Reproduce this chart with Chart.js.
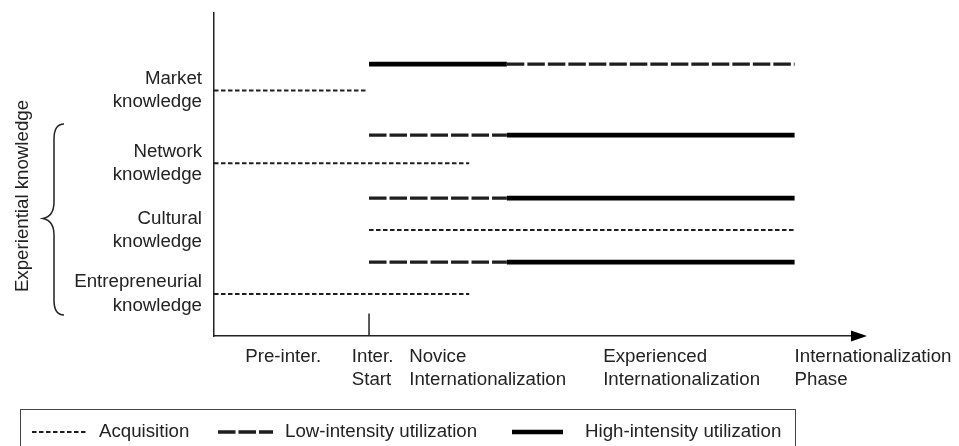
<!DOCTYPE html>
<html>
<head>
<meta charset="utf-8">
<script src="https://cdn.jsdelivr.net/npm/chart.js@4.4.1/dist/chart.umd.min.js"></script>
<style>
  body { margin: 0; background: #fff; }
  #wrap { width: 959px; height: 446px; }
</style>
</head>
<body>
<div id="wrap"><canvas id="myChart"></canvas></div>
<script>
// knowledge rows (y) and phase positions (x)
const knowledgeLabels = [['Market', 'knowledge'], ['Network', 'knowledge'], ['Cultural', 'knowledge'], ['Entrepreneurial', 'knowledge']];
const acquisitionLevel = [7.6, 5.35, 3.28, 1.3];
const acquisitionStart = [0, 0, 2.43, 0];
const acquisitionEnd = [2.41, 4.0, 9.1, 4.0];
const utilizationLevel = [8.42, 6.22, 4.27, 2.29];
const lowIntensity = [[4.59, 9.1], [2.43, 4.59], [2.43, 4.59], [2.43, 4.59]];
const highIntensity = [[2.43, 4.59], [4.59, 9.1], [4.59, 9.1], [4.59, 9.1]];
const phaseLabels = [['Pre-inter.'], ['Inter.', 'Start'], ['Novice', 'Internationalization'], ['Experienced', 'Internationalization'], ['Internationalization', 'Phase']];
const phaseTickX = [0.49, 2.16, 3.06, 6.1, 9.1];
const interStartX = 2.43;
const interStartMark = [0, 0.7];
const legendLabels = ['Acquisition', 'Low-intensity utilization', 'High-intensity utilization'];

const ink = '#222';
const lineStyles = [
  { borderColor: '#1e1e1e', borderWidth: 2, borderDash: [4.5, 2.5] },
  { borderColor: '#1e1e1e', borderWidth: 3.3, borderDash: [17.5, 3] },
  { borderColor: '#000', borderWidth: 4.7, borderDash: [] }
];

function seg(label, x0, x1, y0, y1, style) {
  return Object.assign({
    label: label,
    data: [{ x: x0, y: y0 }, { x: x1, y: y1 }],
    pointRadius: 0,
    fill: false,
    tension: 0,
    borderCapStyle: 'butt'
  }, style);
}

const datasets = [];
knowledgeLabels.forEach((k, i) => {
  const name = k.join(' ');
  datasets.push(seg(name + ' acquisition', acquisitionStart[i], acquisitionEnd[i], acquisitionLevel[i], acquisitionLevel[i], lineStyles[0]));
  datasets.push(seg(name + ' low', lowIntensity[i][0], lowIntensity[i][1], utilizationLevel[i], utilizationLevel[i], lineStyles[1]));
  datasets.push(seg(name + ' high', highIntensity[i][0], highIntensity[i][1], utilizationLevel[i], utilizationLevel[i], lineStyles[2]));
});
datasets.push(seg('Inter. start', interStartX, interStartX, interStartMark[0], interStartMark[1], { borderColor: ink, borderWidth: 1.5 }));

Chart.defaults.font.family = '"Liberation Sans", Arial, sans-serif';
Chart.defaults.font.size = 18.7;
Chart.defaults.color = ink;

const decor = {
  id: 'decor',
  afterDraw(chart) {
    const ctx = chart.ctx;
    const a = chart.chartArea;
    ctx.save();
    // arrow head on the phase axis
    ctx.fillStyle = '#000';
    ctx.beginPath();
    ctx.moveTo(a.right - 1, a.bottom - 5.5);
    ctx.lineTo(a.right + 15, a.bottom);
    ctx.lineTo(a.right - 1, a.bottom + 5.5);
    ctx.closePath();
    ctx.fill();

    // brace
    ctx.strokeStyle = ink;
    ctx.lineWidth = 1.5;
    ctx.beginPath();
    ctx.moveTo(64, 124);
    ctx.bezierCurveTo(57, 124, 54, 129, 54, 139);
    ctx.lineTo(54, 202);
    ctx.bezierCurveTo(54, 212, 50, 217, 43, 218.5);
    ctx.bezierCurveTo(50, 220, 54, 225, 54, 235);
    ctx.lineTo(54, 300);
    ctx.bezierCurveTo(54, 310, 57, 315, 64, 315);
    ctx.stroke();

    // group title
    ctx.fillStyle = ink;
    ctx.font = '18.7px "Liberation Sans", Arial, sans-serif';
    ctx.translate(23, 196);
    ctx.rotate(-Math.PI / 2);
    ctx.textAlign = 'center';
    ctx.textBaseline = 'middle';
    ctx.fillText('Experiential knowledge', 0, 0);
    ctx.restore();

    // legend box
    ctx.save();
    ctx.strokeStyle = '#444';
    ctx.lineWidth = 1;
    ctx.strokeRect(20.5, 409.5, 775, 60);
    const sampleX = [[32, 87], [218, 273], [512, 563]];
    const textX = [99, 285, 585];
    const ly = 432;
    ctx.font = '18.7px "Liberation Sans", Arial, sans-serif';
    ctx.textBaseline = 'middle';
    ctx.textAlign = 'left';
    legendLabels.forEach((t, i) => {
      const s = lineStyles[i];
      ctx.strokeStyle = s.borderColor;
      ctx.lineWidth = s.borderWidth;
      ctx.setLineDash(s.borderDash);
      ctx.beginPath();
      ctx.moveTo(sampleX[i][0], ly);
      ctx.lineTo(sampleX[i][1], ly);
      ctx.stroke();
      ctx.setLineDash([]);
      ctx.fillStyle = ink;
      ctx.fillText(t, textX[i], ly);
    });
    ctx.restore();
  }
};

new Chart(document.getElementById('myChart'), {
  type: 'line',
  data: { datasets: datasets },
  options: {
    responsive: true,
    maintainAspectRatio: false,
    animation: false,
    layout: { padding: { top: 13, right: 107, left: 0, bottom: 0 } },
    plugins: { legend: { display: false }, tooltip: { enabled: false } },
    scales: {
      x: {
        type: 'linear',
        min: 0,
        max: 10,
        grid: { display: false, drawTicks: false },
        border: { color: ink, width: 1.5 },
        afterBuildTicks: s => { s.ticks = phaseTickX.map(v => ({ value: v })); },
        afterFit: s => { s.height = 110; s.paddingLeft = 0; s.paddingRight = 0; },
        ticks: {
          autoSkip: false, maxRotation: 0, minRotation: 0,
          align: 'start', padding: 10,
          font: { lineHeight: 1.2 },
          callback: (v, i) => phaseLabels[i]
        }
      },
      y: {
        type: 'linear',
        min: 0,
        max: 10,
        grid: { display: false, drawTicks: false },
        border: { color: ink, width: 1.5 },
        afterBuildTicks: s => { s.ticks = acquisitionLevel.map(v => ({ value: v })); },
        afterFit: s => { s.width = 214; s.paddingTop = 0; s.paddingBottom = 0; },
        ticks: {
          autoSkip: false, padding: 12,
          font: { lineHeight: 1.25 },
          callback: (v, i) => knowledgeLabels[i]
        }
      }
    }
  },
  plugins: [decor]
});
</script>
</body>
</html>
